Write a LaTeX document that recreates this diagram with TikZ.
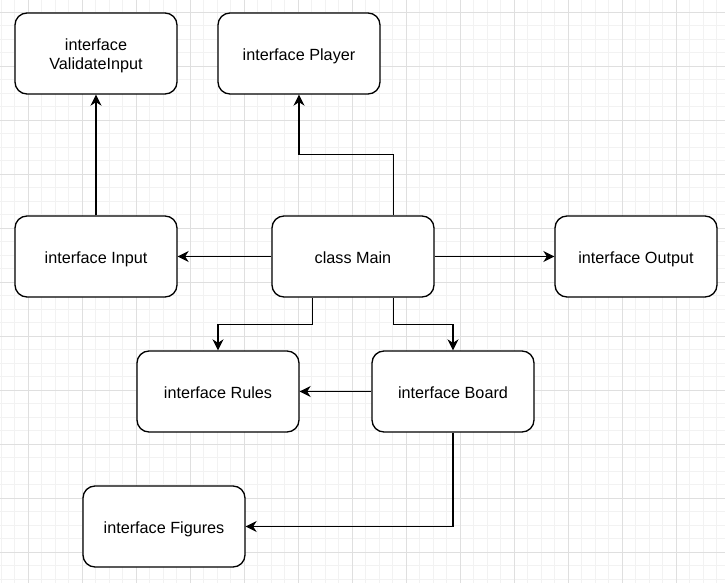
\documentclass[tikz,border=0pt]{standalone}
\usepackage{fontspec}
\setmainfont{Liberation Sans}
\usetikzlibrary{arrows.meta}
\definecolor{gmajor}{HTML}{DFDFDF}
\definecolor{gminor}{HTML}{F2F2F2}
\begin{document}
\begin{tikzpicture}[x=1pt,y=-1pt,
  box/.style={draw, rounded corners=12pt, line width=1.35pt, minimum width=162pt, minimum height=81pt,
    align=center, font=\fontsize{16.2}{18.6}\selectfont, inner sep=0pt, fill=white,
    text height=13.6pt, text depth=0pt},
  emptybox/.style={draw, rounded corners=12pt, line width=1.35pt, minimum width=162pt, minimum height=81pt,
    inner sep=0pt, fill=white},
  boxtext/.style={align=center, font=\fontsize{16.2}{18.6}\selectfont, inner sep=0pt},
  conn/.style={line width=1.35pt, -{Stealth[length=11pt,width=11pt,inset=3.5pt]}},
  gridminor/.style={gminor, line width=1pt},
  gridmajor/.style={gmajor, line width=1pt}]
\useasboundingbox[fill=white] (0,0) rectangle (725,583);
% grid
\foreach \i in {0,...,53} \draw[gridminor] (1.3+13.5*\i,0) -- (1.3+13.5*\i,583);
\foreach \i in {0,...,42} \draw[gridminor] (0,12.3+13.5*\i) -- (725,12.3+13.5*\i);
\foreach \i in {0,...,12} \draw[gridmajor] (28.3+54*\i,0) -- (28.3+54*\i,583);
\foreach \i in {0,...,10} \draw[gridmajor] (0,12.3+54*\i) -- (725,12.3+54*\i);
% nodes
\node[emptybox] (vi) at (96,53.5) {};
\node[boxtext, yshift=-2.3pt] (vitext) at (vi.center) {interface\\ValidateInput};
\node[box] (player) at (299,53.5) {interface Player};
\node[box] (input) at (96,256.5) {interface Input};
\node[box] (main) at (353,256.5) {class Main};
\node[box] (output) at (636,256.5) {interface Output};
\node[box] (rules) at (218,391.5) {interface Rules};
\node[box] (board) at (453,391.5) {interface Board};
\node[box] (figures) at (164,526.5) {interface Figures};
% connectors
\draw[conn] (input.north) -- (vi.south);
\draw[conn] ([xshift=40.5pt]main.north) -- ++(0,-61) -| (player.south);
\draw[conn] (main.west) -- (input.east);
\draw[conn] (main.east) -- (output.west);
\draw[conn] ([xshift=-40.5pt]main.south) -- ++(0,27) -| (rules.north);
\draw[conn] ([xshift=40.5pt]main.south) -- ++(0,27) -| (board.north);
\draw[conn] (board.west) -- (rules.east);
\draw[conn] (board.south) |- (figures.east);
\end{tikzpicture}
\end{document}
